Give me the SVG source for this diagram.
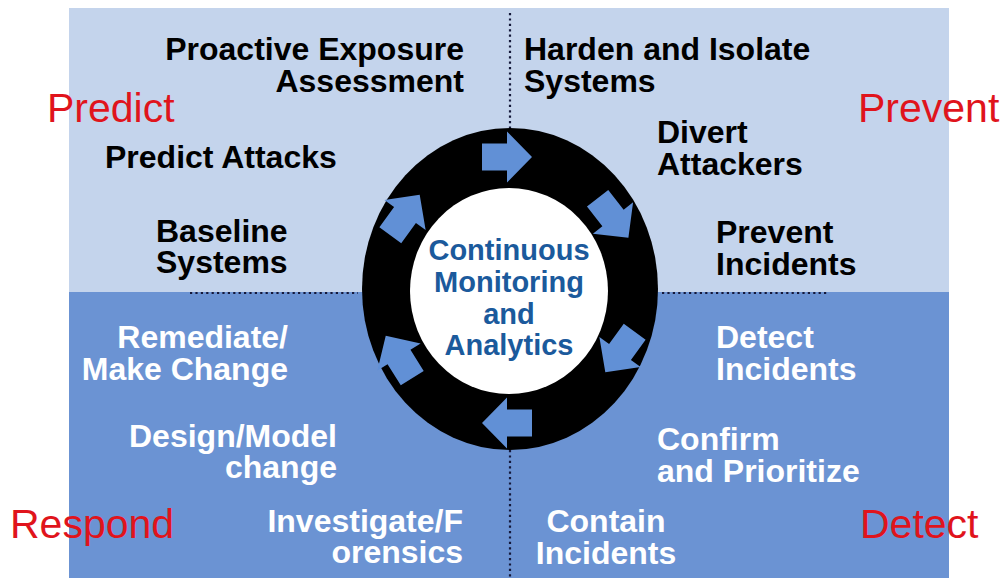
<svg xmlns="http://www.w3.org/2000/svg" width="1005" height="578" viewBox="0 0 1005 578">
<defs>
<style>
.lbl{font-family:"Liberation Sans",Arial,sans-serif;font-weight:bold;font-size:32px}
.dk{fill:#000}
.wt{fill:#fff}
.phase{font-family:"Liberation Sans",Arial,sans-serif;font-size:41px;fill:#e0141c}
.ctr{font-family:"Liberation Sans",Arial,sans-serif;font-weight:bold;font-size:29px;fill:#1b5a9c}
.dot{stroke:#14183a;stroke-width:2.2;stroke-dasharray:2.2 3.2;fill:none}
.arr{fill:#6190d6}
</style>
<path id="arrow" d="M-25,-13.5 H0 V-25.5 L25,0 L0,25.5 V13.5 H-25 Z"/>
</defs>
<rect width="1005" height="578" fill="#fff"/>
<g id="background">
<rect x="69" y="8" width="880" height="285" fill="#c4d4ec"/>
<rect x="69" y="292" width="880" height="286" fill="#6b93d3"/>
</g>
<g id="dividers">
<line class="dot" x1="190" y1="293" x2="358" y2="293"/>
<line class="dot" x1="662" y1="293" x2="827" y2="293"/>
<line class="dot" x1="510" y1="13" x2="510" y2="130"/>
<line class="dot" x1="510" y1="450" x2="510" y2="578"/>
</g>
<g id="ring">
<ellipse cx="510" cy="289" rx="148" ry="161" fill="#000"/>
<ellipse cx="509" cy="291" rx="99" ry="103" fill="#fff"/>
</g>
<g id="connectors">
<use href="#arrow" class="arr" transform="translate(507,157)"/>
<use href="#arrow" class="arr" transform="translate(613,218) rotate(52)"/>
<use href="#arrow" class="arr" transform="translate(620,352) rotate(126)"/>
<use href="#arrow" class="arr" transform="translate(507,423) rotate(180)"/>
<use href="#arrow" class="arr" transform="translate(399,357) rotate(238)"/>
<use href="#arrow" class="arr" transform="translate(405,215) rotate(306)"/>
</g>
<g id="center">
<text class="ctr" text-anchor="middle"><tspan x="509" y="260">Continuous</tspan><tspan x="509" y="292">Monitoring</tspan><tspan x="509" y="324">and</tspan><tspan x="509" y="355">Analytics</tspan></text>
</g>
<g id="phase-predict"><text class="phase" x="47" y="122">Predict</text></g>
<g id="phase-prevent"><text class="phase" x="858" y="122">Prevent</text></g>
<g id="phase-respond"><text class="phase" x="10" y="538">Respond</text></g>
<g id="phase-detect"><text class="phase" x="860" y="538">Detect</text></g>
<g id="proactive">
<text class="lbl dk" text-anchor="end"><tspan x="464" y="60">Proactive Exposure</tspan><tspan x="464" y="92">Assessment</tspan></text>
</g>
<g id="predict-attacks"><text class="lbl dk" x="105" y="168">Predict Attacks</text></g>
<g id="baseline">
<text class="lbl dk"><tspan x="156" y="242">Baseline</tspan><tspan x="156" y="273">Systems</tspan></text>
</g>
<g id="harden">
<text class="lbl dk"><tspan x="524" y="60">Harden and Isolate</tspan><tspan x="524" y="92">Systems</tspan></text>
</g>
<g id="divert">
<text class="lbl dk"><tspan x="657" y="143">Divert</tspan><tspan x="657" y="175">Attackers</tspan></text>
</g>
<g id="prevent-incidents">
<text class="lbl dk"><tspan x="716" y="243">Prevent</tspan><tspan x="716" y="275">Incidents</tspan></text>
</g>
<g id="detect-incidents">
<text class="lbl wt"><tspan x="716" y="348">Detect</tspan><tspan x="716" y="380">Incidents</tspan></text>
</g>
<g id="confirm">
<text class="lbl wt"><tspan x="657" y="450">Confirm</tspan><tspan x="657" y="482">and Prioritize</tspan></text>
</g>
<g id="contain">
<text class="lbl wt" text-anchor="middle"><tspan x="606" y="532">Contain</tspan><tspan x="606" y="564">Incidents</tspan></text>
</g>
<g id="investigate">
<text class="lbl wt" text-anchor="end"><tspan x="463" y="532">Investigate/F</tspan><tspan x="463" y="563">orensics</tspan></text>
</g>
<g id="design">
<text class="lbl wt" text-anchor="end"><tspan x="337" y="447">Design/Model</tspan><tspan x="337" y="478">change</tspan></text>
</g>
<g id="remediate">
<text class="lbl wt" text-anchor="end"><tspan x="288" y="348">Remediate/</tspan><tspan x="288" y="380">Make Change</tspan></text>
</g>
</svg>
